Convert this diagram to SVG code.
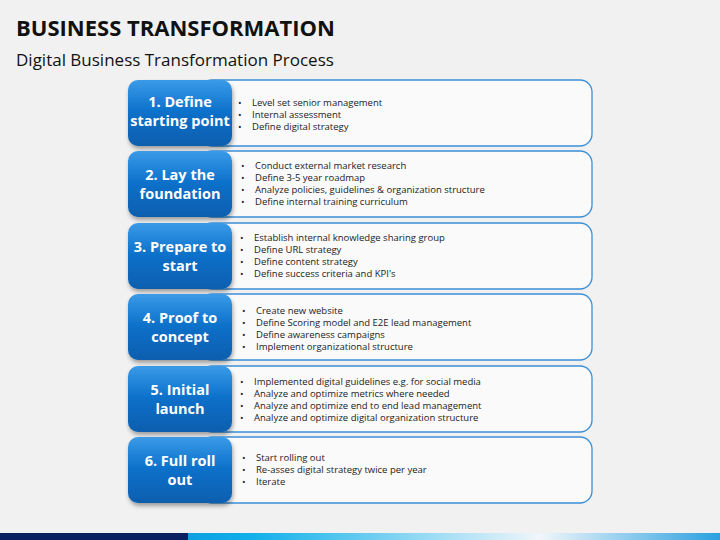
<svg xmlns="http://www.w3.org/2000/svg" width="720" height="540" viewBox="0 0 720 540">
<defs>
<linearGradient id="bl" x1="0" y1="0" x2="0" y2="1"><stop offset="0" stop-color="#3a9be8"/><stop offset="0.5" stop-color="#0a6fc9"/><stop offset="1" stop-color="#0a5fae"/></linearGradient>
<linearGradient id="bar" x1="0" y1="0" x2="1" y2="0"><stop offset="0" stop-color="#0670c8"/><stop offset="0.35" stop-color="#10b0ea"/><stop offset="0.75" stop-color="#f0f6fa"/><stop offset="1" stop-color="#2aa0e0"/></linearGradient>
<filter id="sh" x="-20%" y="-20%" width="140%" height="150%"><feDropShadow dx="1" dy="3" stdDeviation="2" flood-color="#000" flood-opacity="0.35"/></filter>
</defs>
<style>
.box{fill:#fafafa;stroke:#3a8fd6;stroke-width:1.3}
.lab{fill:url(#bl);filter:url(#sh)}
.lt{font-family:"Open Sans",sans-serif;font-weight:bold;font-size:14.5px;fill:#fff;text-anchor:middle}
.bt{font-family:"Open Sans",sans-serif;font-size:9.5px;fill:#222}
</style>
<rect width="720" height="540" fill="#f1f1f1"/>
<text x="16" y="36" font-family="Open Sans,sans-serif" font-weight="bold" font-size="22" fill="#111">BUSINESS TRANSFORMATION</text>
<text x="16" y="66" font-family="Open Sans,sans-serif" font-size="17" fill="#111">Digital Business Transformation Process</text>
<g id="n1"><rect class="box" x="200" y="80" width="392" height="66" rx="12"/><rect class="lab" x="128" y="80" width="104" height="66" rx="10"/>
<text class="lt" x="180" y="107">1. Define</text><text class="lt" x="180" y="126">starting point</text>
<text class="bt"><tspan x="238" y="106">•</tspan><tspan x="252" y="106">Level set senior management</tspan><tspan x="238" y="118">•</tspan><tspan x="252" y="118">Internal assessment</tspan><tspan x="238" y="130">•</tspan><tspan x="252" y="130">Define digital strategy</tspan></text></g>
<g id="n2"><rect class="box" x="200" y="151" width="392" height="66" rx="12"/><rect class="lab" x="128" y="151" width="104" height="66" rx="10"/>
<text class="lt" x="180" y="180">2. Lay the</text><text class="lt" x="180" y="199">foundation</text>
<text class="bt"><tspan x="241" y="169">•</tspan><tspan x="255" y="169">Conduct external market research</tspan><tspan x="241" y="181">•</tspan><tspan x="255" y="181">Define 3-5 year roadmap</tspan><tspan x="241" y="193">•</tspan><tspan x="255" y="193">Analyze policies, guidelines &amp; organization structure</tspan><tspan x="241" y="205">•</tspan><tspan x="255" y="205">Define internal training curriculum</tspan></text></g>
<g id="n3"><rect class="box" x="200" y="223" width="392" height="66" rx="12"/><rect class="lab" x="128" y="223" width="104" height="66" rx="10"/>
<text class="lt" x="180" y="252">3. Prepare to</text><text class="lt" x="180" y="271">start</text>
<text class="bt"><tspan x="240" y="241">•</tspan><tspan x="254" y="241">Establish internal knowledge sharing group</tspan><tspan x="240" y="253">•</tspan><tspan x="254" y="253">Define URL strategy</tspan><tspan x="240" y="265">•</tspan><tspan x="254" y="265">Define content strategy</tspan><tspan x="240" y="277">•</tspan><tspan x="254" y="277">Define success criteria and KPI's</tspan></text></g>
<g id="n4"><rect class="box" x="200" y="294" width="392" height="66" rx="12"/><rect class="lab" x="128" y="294" width="104" height="66" rx="10"/>
<text class="lt" x="180" y="323">4. Proof to</text><text class="lt" x="180" y="342">concept</text>
<text class="bt"><tspan x="242" y="314">•</tspan><tspan x="256" y="314">Create new website</tspan><tspan x="242" y="326">•</tspan><tspan x="256" y="326">Define Scoring model and E2E lead management</tspan><tspan x="242" y="338">•</tspan><tspan x="256" y="338">Define awareness campaigns</tspan><tspan x="242" y="350">•</tspan><tspan x="256" y="350">Implement organizational structure</tspan></text></g>
<g id="n5"><rect class="box" x="200" y="366" width="392" height="66" rx="12"/><rect class="lab" x="128" y="366" width="104" height="66" rx="10"/>
<text class="lt" x="180" y="395">5. Initial</text><text class="lt" x="180" y="414">launch</text>
<text class="bt"><tspan x="240" y="385">•</tspan><tspan x="254" y="385">Implemented digital guidelines e.g. for social media</tspan><tspan x="240" y="397">•</tspan><tspan x="254" y="397">Analyze and optimize metrics where needed</tspan><tspan x="240" y="409">•</tspan><tspan x="254" y="409">Analyze and optimize end to end lead management</tspan><tspan x="240" y="421">•</tspan><tspan x="254" y="421">Analyze and optimize digital organization structure</tspan></text></g>
<g id="n6"><rect class="box" x="200" y="437" width="392" height="66" rx="12"/><rect class="lab" x="128" y="437" width="104" height="66" rx="10"/>
<text class="lt" x="180" y="466">6. Full roll</text><text class="lt" x="180" y="485">out</text>
<text class="bt"><tspan x="242" y="461">•</tspan><tspan x="256" y="461">Start rolling out</tspan><tspan x="242" y="473">•</tspan><tspan x="256" y="473">Re-asses digital strategy twice per year</tspan><tspan x="242" y="485">•</tspan><tspan x="256" y="485">Iterate</tspan></text></g>
<g id="connectors"/>
<rect x="0" y="533" width="720" height="7" fill="url(#bar)"/>
<rect x="0" y="533" width="188" height="7" fill="#0a2060"/>
</svg>
